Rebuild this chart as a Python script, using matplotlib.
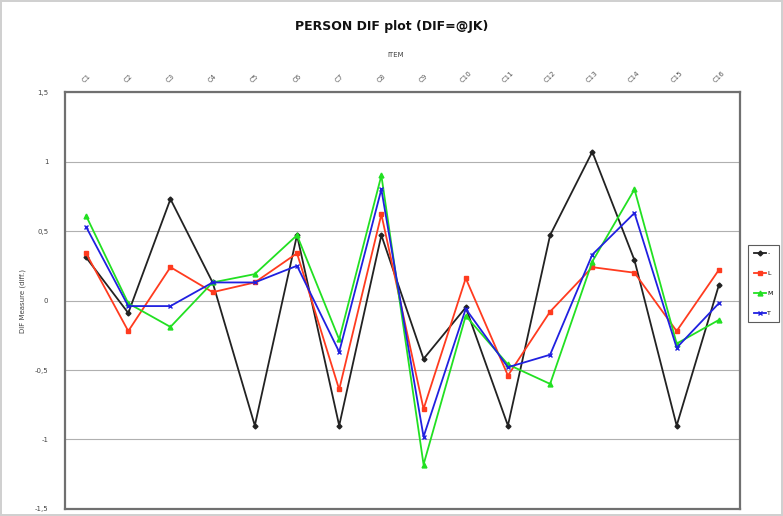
import matplotlib
matplotlib.use("Agg")
import matplotlib.pyplot as plt
from matplotlib.ticker import FuncFormatter

items = ["C1", "C2", "C3", "C4", "C5", "C6", "C7", "C8",
         "C9", "C10", "C11", "C12", "C13", "C14", "C15", "C16"]
series_labels = ["-", "L", "M", "T"]
black = [0.31, -0.09, 0.73, 0.13, -0.90, 0.47, -0.90, 0.47,
         -0.42, -0.05, -0.90, 0.47, 1.07, 0.29, -0.90, 0.11]
red = [0.34, -0.22, 0.24, 0.06, 0.13, 0.34, -0.64, 0.62,
       -0.78, 0.16, -0.54, -0.08, 0.24, 0.20, -0.22, 0.22]
green = [0.61, -0.02, -0.19, 0.13, 0.19, 0.47, -0.28, 0.90,
         -1.18, -0.11, -0.46, -0.60, 0.28, 0.80, -0.31, -0.14]
blue = [0.53, -0.04, -0.04, 0.13, 0.13, 0.25, -0.37, 0.80,
        -0.98, -0.06, -0.48, -0.39, 0.33, 0.63, -0.34, -0.02]

fig = plt.figure(figsize=(7.83, 5.16), dpi=100)
fig.patch.set_edgecolor("#d0d0d0")
fig.patch.set_linewidth(1.5)
ax = fig.add_axes([0.083, 0.0136, 0.862, 0.808])

x = list(range(len(items)))
styles = [
    (black, "#222222", "D", 2.5),
    (red, "#ff3b1f", "s", 3.5),
    (green, "#22e022", "^", 3.5),
    (blue, "#2020e0", "x", 3.5),
]
handles = []
for (vals, col, mk, ms), lab in zip(styles, series_labels):
    h, = ax.plot(x, vals, color=col, marker=mk, markersize=ms, linewidth=1.3,
                 label=lab)
    handles.append(h)

ax.set_xlim(-0.5, len(items) - 0.5)
ax.set_ylim(-1.5, 1.5)
ax.set_yticks([-1.5, -1, -0.5, 0, 0.5, 1, 1.5])
ax.yaxis.set_major_formatter(FuncFormatter(lambda v, p: ("%g" % v).replace(".", ",")))
ax.yaxis.grid(True, color="#b0b0b0", linewidth=0.8)
ax.set_axisbelow(True)
ax.xaxis.tick_top()
ax.set_xticks(x)
ax.set_xticklabels(items, rotation=45, fontsize=5, color="#555555")
ax.tick_params(axis="x", length=0, pad=6)
ax.tick_params(axis="y", length=0, labelsize=5, labelcolor="#444444", pad=12)
for s in ax.spines.values():
    s.set_color("#707070")
    s.set_linewidth(1.6)

ax.set_ylabel("DIF Measure (diff.)", fontsize=5, color="#444444", labelpad=6)
fig.text(0.5, 0.948, "PERSON DIF plot (DIF=@JK)", ha="center", va="center",
         fontsize=9, fontweight="bold", color="#111111")
fig.text(0.505, 0.893, "ITEM", ha="center", va="center", fontsize=5, color="#444444")

leg = fig.legend(handles=handles, loc="upper left", bbox_to_anchor=(748 / 783, 1 - 245 / 516),
                 fontsize=4.5, frameon=True, fancybox=False, edgecolor="#333333",
                 handlelength=1.8, handletextpad=0.3, labelspacing=2.3,
                 borderpad=1.0, borderaxespad=0.0)
leg.get_frame().set_linewidth(0.8)

fig.savefig("out.png", dpi=100)
